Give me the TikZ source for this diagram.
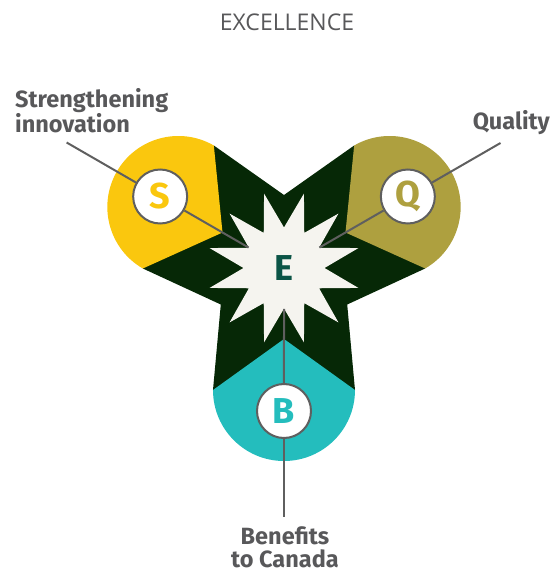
\documentclass[tikz,border=0pt]{standalone}
\usepackage{fontspec}
\setmainfont{Fira Sans}
\newfontfamily\titlefont{Open Sans}
\usetikzlibrary{shapes.geometric, calc}
\definecolor{hubdark}{RGB}{6,40,6}
\definecolor{lobeyellow}{RGB}{250,199,14}
\definecolor{lobeolive}{RGB}{174,160,63}
\definecolor{lobeteal}{RGB}{36,189,189}
\definecolor{starwhite}{RGB}{245,244,239}
\definecolor{hubtext}{RGB}{11,84,70}
\definecolor{lblgray}{RGB}{88,88,90}
\definecolor{linkgray}{RGB}{95,95,95}
\tikzset{
    % Hub and lobes
    lobe/.style={fill=#1, draw=none},
    hub/.style={star, star points=12, star point ratio=1.9, shape border rotate=15,
                fill=starwhite, minimum size=154pt, inner sep=0pt,
                font=\fontsize{36}{36}\selectfont\bfseries, text=hubtext},
    % Letter badges
    badge/.style={circle, draw=linkgray, line width=2pt, fill=white,
                  minimum size=54pt, inner sep=0pt,
                  font=\fontsize{36}{36}\selectfont\bfseries, text=#1},
    link/.style={linkgray, line width=2pt},
    % Labels
    lbl/.style={font=\fontsize{23.5}{23}\selectfont\bfseries, text=lblgray, inner sep=0pt},
    ttl/.style={font=\titlefont\fontsize{23}{23}\selectfont, text=lblgray, inner sep=0pt},
}

\begin{document}
\begin{tikzpicture}[x=1pt, y=1pt]
\useasboundingbox (-284,-305) rectangle (271,268);

% Lobe centres and arm corners
\coordinate (sc) at (150:122);
\coordinate (qc) at (30:122);
\coordinate (bc) at (270:122);
\coordinate (sa) at ($(sc)+(240:71)$);
\coordinate (sb) at ($(sc)+(60:71)$);
\coordinate (qa) at ($(qc)+(120:71)$);
\coordinate (qb) at ($(qc)+(-60:71)$);
\coordinate (ba) at ($(bc)+(0:71)$);
\coordinate (bb) at ($(bc)+(180:71)$);
\coordinate (n1) at (90:73);
\coordinate (n2) at (-30:73);
\coordinate (n3) at (210:73);

% Dark arms
\fill[hubdark] (sa) -- (sb) -- (n1) -- (qa) -- (qb) -- (n2) -- (ba) -- (bb) -- (n3) -- cycle;

% Coloured lobes
\fill[lobe=lobeyellow] (sb) arc[start angle=60, end angle=240, radius=71pt] -- (150:71) -- cycle;
\fill[lobe=lobeolive] (qb) arc[start angle=-60, end angle=120, radius=71pt] -- (30:71) -- cycle;
\fill[lobe=lobeteal] (bb) arc[start angle=180, end angle=360, radius=71pt] -- (270:71) -- cycle;

% Hub and badges
\node[hub] (E) at (0,0) {E};
\node[badge=lobeyellow] (S) at (150:143) {S};
\node[badge=lobeolive] (Q) at (30:143) {Q};
\node[badge=lobeteal] (B) at (270:143) {B};

% Labels
\node[ttl, anchor=base] (title) at (3,237) {EXCELLENCE};
\node[lbl, anchor=north west, align=left] (slbl) at (-269,180) {Strengthening\\innovation};
\node[lbl, anchor=north east] (qlbl) at (266,158) {Quality};
\node[lbl, anchor=north, align=center] (blbl) at (1,-258) {Benefits\\to Canada};

% Connectors
\coordinate (send) at (150:251);
\coordinate (qend) at (30:250);
\coordinate (bend) at (270:249);
\draw[link] (E) -- (S);
\draw[link] (E) -- (Q);
\draw[link] (E) -- (B);
\draw[link] (S) -- (send);
\draw[link] (Q) -- (qend);
\draw[link] (B) -- (bend);
\end{tikzpicture}
\end{document}
